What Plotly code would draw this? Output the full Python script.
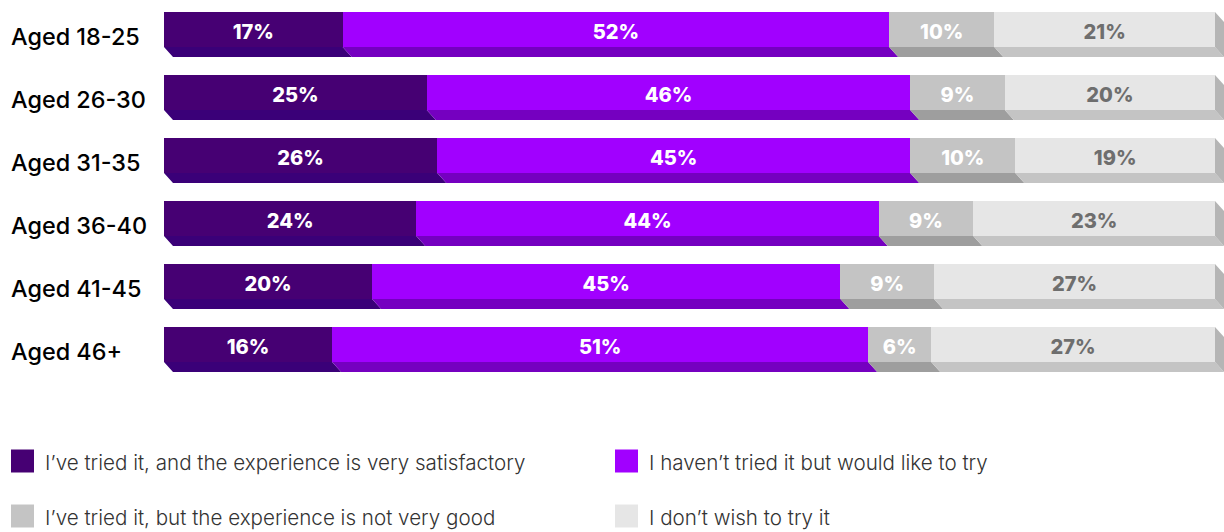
import plotly.graph_objects as go

# ---------------- data ----------------
ages = ["Aged 18-25", "Aged 26-30", "Aged 31-35", "Aged 36-40", "Aged 41-45", "Aged 46+"]
series_names = [
    "I’ve tried it, and the experience is very satisfactory",
    "I haven’t tried it but would like to try",
    "I’ve tried it, but the experience is not very good",
    "I don’t wish to try it",
]
tried_satisfied = [17, 25, 26, 24, 20, 16]
would_like_to_try = [52, 46, 45, 44, 45, 51]
tried_not_good = [10, 9, 10, 9, 9, 6]
dont_wish = [21, 20, 19, 23, 27, 27]

series_values = [tried_satisfied, would_like_to_try, tried_not_good, dont_wish]

# ---------------- style ----------------
face_colors = ["#460073", "#a100ff", "#c4c4c4", "#e6e6e6"]
strip_colors = ["#3a0078", "#7500c0", "#9e9e9e", "#c4c4c4"]
side_color = "#b5b5b5"
label_colors = ["#ffffff", "#ffffff", "#ffffff", "#6e6e6e"]

W, H = 1224, 532
ML = 164
PW = W - ML
BAR_PX = 1051.0
X_MAX = 100.0 * PW / BAR_PX
ROW_PX = 63.0
FACE_HALF = 17.5 / ROW_PX
DEPTH = 10.0 / ROW_PX
DX = 9.0 * X_MAX / PW
Y0_PX = 29.5

rows = list(range(len(ages)))
totals = [sum(s[i] for s in series_values) for i in rows]
shares = [[v / totals[i] * 100.0 for i, v in enumerate(s)] for s in series_values]

fig = go.Figure()

lefts = [0.0] * len(rows)
for j, sh in enumerate(shares):
    base = lefts[:]
    fig.add_trace(go.Bar(
        orientation="h", y=rows, x=sh, base=base, width=2 * FACE_HALF,
        marker=dict(color=face_colors[j], line=dict(width=0)),
        name=series_names[j], showlegend=False, hoverinfo="skip",
    ))
    # bottom strips (3D effect)
    px, py = [], []
    for i in rows:
        L, R = base[i], base[i] + sh[i]
        yb = i + FACE_HALF
        px += [L, R, R + DX, L + DX, L, None]
        py += [yb, yb, yb + DEPTH, yb + DEPTH, yb, None]
    fig.add_trace(go.Scatter(
        x=px, y=py, mode="lines", fill="toself", fillcolor=strip_colors[j],
        line=dict(width=0, color=strip_colors[j]), showlegend=False, hoverinfo="skip",
    ))
    # labels
    fig.add_trace(go.Scatter(
        x=[base[i] + sh[i] / 2 for i in rows], y=[i + 4.5 / ROW_PX for i in rows],
        mode="text", text=[f"{v}%" for v in series_values[j]],
        textfont=dict(family="Inter", size=20, color=label_colors[j], weight=800),
        showlegend=False, hoverinfo="skip", cliponaxis=False,
    ))
    lefts = [base[i] + sh[i] for i in rows]

# right side faces
sx, sy = [], []
for i in rows:
    R = lefts[i]
    sx += [R, R + DX, R + DX, R, R, None]
    sy += [i - FACE_HALF, i - FACE_HALF + DEPTH, i + FACE_HALF + DEPTH, i + FACE_HALF, i - FACE_HALF, None]
fig.add_trace(go.Scatter(
    x=sx, y=sy, mode="lines", fill="toself", fillcolor=side_color,
    line=dict(width=0, color=side_color), showlegend=False, hoverinfo="skip",
))

annotations = []
for i, a in enumerate(ages):
    annotations.append(dict(
        xref="paper", yref="y", x=(9 - ML) / PW, y=i + 6.5 / ROW_PX,
        xanchor="left", yanchor="middle", text=a, showarrow=False,
        font=dict(family="Inter", size=23.4, color="#000000", weight=500),
    ))

# manual legend
def pxx(p):
    return (p - ML) / PW

def pxy(p):
    return 1 - p / H

legend_pos = [(11, 461), (615, 461), (11, 516), (615, 516)]
legend_order = [0, 1, 2, 3]
shapes = []
for k, j in enumerate(legend_order):
    lx, ly = legend_pos[k]
    shapes.append(dict(
        type="rect", xref="paper", yref="paper",
        x0=pxx(lx), x1=pxx(lx + 23), y0=pxy(ly - 11.5), y1=pxy(ly + 11.5),
        fillcolor=face_colors[j], line=dict(width=0),
    ))
    annotations.append(dict(
        xref="paper", yref="paper", x=pxx(lx + 32), y=pxy(ly + 1.5),
        xanchor="left", yanchor="middle", text=series_names[j], showarrow=False,
        font=dict(family="Inter", size=20.6, color="#333333", weight=300),
    ))

fig.update_layout(
    width=W, height=H,
    margin=dict(l=ML, r=0, t=0, b=0),
    paper_bgcolor="white", plot_bgcolor="white",
    barmode="overlay", bargap=0,
    xaxis=dict(range=[0, X_MAX], visible=False, fixedrange=True),
    yaxis=dict(range=[(H - Y0_PX) / ROW_PX, -Y0_PX / ROW_PX], visible=False, fixedrange=True),
    annotations=annotations, shapes=shapes,
    showlegend=False,
)

fig.write_html("out.html")
